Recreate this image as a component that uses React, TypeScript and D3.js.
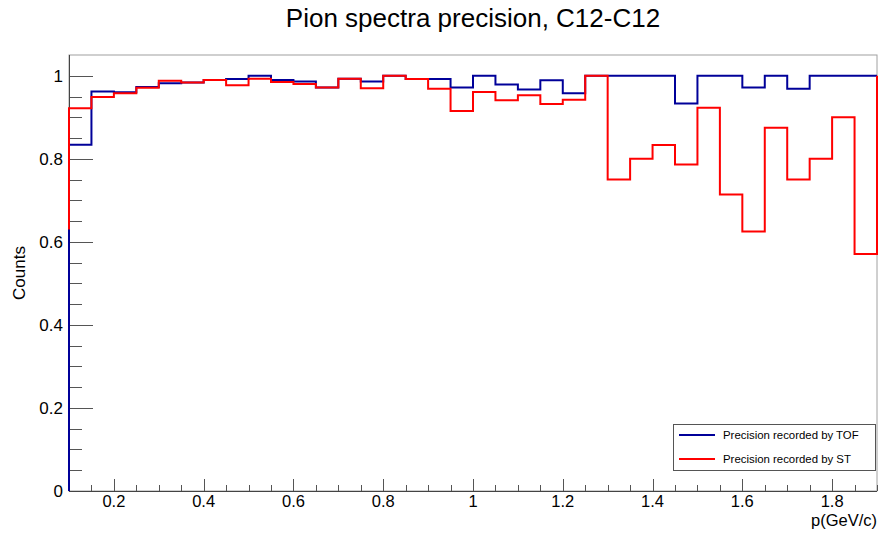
import React, { useEffect, useRef } from 'react';
import * as d3 from 'd3';

// bin edges: 36 bins of 0.05 from 0.1 to 1.9
const binLow = [
  0.1, 0.15, 0.2, 0.25, 0.3, 0.35, 0.4, 0.45, 0.5, 0.55, 0.6, 0.65,
  0.7, 0.75, 0.8, 0.85, 0.9, 0.95, 1.0, 1.05, 1.1, 1.15, 1.2, 1.25,
  1.3, 1.35, 1.4, 1.45, 1.5, 1.55, 1.6, 1.65, 1.7, 1.75, 1.8, 1.85,
];
const binWidth = 0.05;

const tofValues = [
  0.834, 0.962, 0.96, 0.973, 0.982, 0.984, 0.99, 0.992, 1.0, 0.99, 0.986, 0.972,
  0.993, 0.986, 1.0, 0.992, 0.992, 0.972, 1.0, 0.979, 0.967, 0.989, 0.958, 1.0,
  1.0, 1.0, 1.0, 0.933, 1.0, 1.0, 0.972, 1.0, 0.969, 1.0, 1.0, 1.0,
];
const stValues = [
  0.922, 0.949, 0.958, 0.971, 0.988, 0.984, 0.99, 0.977, 0.993, 0.985, 0.98, 0.972,
  0.993, 0.97, 1.0, 0.992, 0.969, 0.915, 0.961, 0.941, 0.953, 0.932, 0.942, 1.0,
  0.75, 0.8, 0.833, 0.786, 0.923, 0.714, 0.625, 0.875, 0.75, 0.8, 0.9, 0.571,
];
// where the outline starts at the left edge and ends at the right edge
const tofEdges = [0, 1.0];
const stEdges = [0.63, 1.0];

const xMajor = [0.2, 0.4, 0.6, 0.8, 1.0, 1.2, 1.4, 1.6, 1.8];
const xMajorLabels = ['0.2', '0.4', '0.6', '0.8', '1', '1.2', '1.4', '1.6', '1.8'];
const yMajor = [0, 0.2, 0.4, 0.6, 0.8, 1.0];
const yMajorLabels = ['0', '0.2', '0.4', '0.6', '0.8', '1'];

const seriesNames = ['Precision recorded by TOF', 'Precision recorded by ST'];
const seriesColors = ['#000099', '#ff0000'];

const W = 879;
const H = 535;
const FONT = '"Liberation Sans", Arial, Helvetica, sans-serif';

export default function App() {
  const ref = useRef<SVGSVGElement | null>(null);

  useEffect(() => {
    const svg = d3.select(ref.current);
    svg.selectAll('*').remove();

    const left = 69, right = 877, top = 55, bottom = 491;
    const x = d3.scaleLinear().domain([0.1, 1.9]).range([left, right]);
    const y = d3.scaleLinear().domain([0, 1.05]).range([bottom, top]);

    svg.append('rect').attr('width', W).attr('height', H).attr('fill', '#fff');

    // frame
    svg.append('rect')
      .attr('x', left).attr('y', top)
      .attr('width', right - left).attr('height', bottom - top)
      .attr('fill', 'none').attr('stroke', '#a0a0a0').attr('stroke-width', 1);

    // y ticks
    const yMinor = d3.range(0, 21).map(i => i * 0.05);
    svg.append('g').selectAll('line').data(yMinor).enter().append('line')
      .attr('x1', left).attr('x2', left + 13)
      .attr('y1', d => Math.round(y(d)) + 0.5).attr('y2', d => Math.round(y(d)) + 0.5)
      .attr('stroke', '#555');
    svg.append('g').selectAll('line').data(yMajor).enter().append('line')
      .attr('x1', left).attr('x2', left + 24)
      .attr('y1', d => Math.round(y(d)) + 0.5).attr('y2', d => Math.round(y(d)) + 0.5)
      .attr('stroke', '#555');
    svg.append('g').selectAll('text').data(yMajor).enter().append('text')
      .attr('x', 63).attr('y', d => y(d) + 6)
      .attr('text-anchor', 'end')
      .attr('font-family', FONT).attr('font-size', 17)
      .text((d, i) => yMajorLabels[i]);

    // x ticks
    const xMinor = d3.range(0, 37).map(i => 0.1 + i * 0.05);
    svg.append('g').selectAll('line').data(xMinor).enter().append('line')
      .attr('x1', d => Math.round(x(d)) + 0.5).attr('x2', d => Math.round(x(d)) + 0.5)
      .attr('y1', bottom).attr('y2', bottom - 6)
      .attr('stroke', '#555');
    svg.append('g').selectAll('line').data(xMajor).enter().append('line')
      .attr('x1', d => Math.round(x(d)) + 0.5).attr('x2', d => Math.round(x(d)) + 0.5)
      .attr('y1', bottom).attr('y2', bottom - 12)
      .attr('stroke', '#555');
    svg.append('g').selectAll('text').data(xMajor).enter().append('text')
      .attr('x', d => x(d)).attr('y', 507)
      .attr('text-anchor', 'middle')
      .attr('font-family', FONT).attr('font-size', 16.5)
      .text((d, i) => xMajorLabels[i]);

    // axis lines
    svg.append('line').attr('x1', left).attr('x2', right)
      .attr('y1', bottom + 0.5).attr('y2', bottom + 0.5).attr('stroke', '#444');
    svg.append('line').attr('x1', left + 0.5).attr('x2', left + 0.5)
      .attr('y1', top).attr('y2', bottom).attr('stroke', '#444');

    // histograms
    const line = d3.line<[number, number]>()
      .x(d => x(d[0])).y(d => y(d[1]))
      .curve(d3.curveLinear);

    const outline = (vals: number[], edges: number[]) => {
      const pts: [number, number][] = [[binLow[0], edges[0]]];
      vals.forEach((v, i) => {
        pts.push([binLow[i], v]);
        pts.push([binLow[i] + binWidth, v]);
      });
      pts.push([binLow[binLow.length - 1] + binWidth, edges[1]]);
      return pts;
    };

    [[tofValues, tofEdges], [stValues, stEdges]].forEach(([vals, edges], k) => {
      svg.append('path')
        .attr('d', line(outline(vals as number[], edges as number[])))
        .attr('fill', 'none')
        .attr('stroke', seriesColors[k])
        .attr('stroke-width', 2);
    });

    // title
    svg.append('text')
      .attr('x', (left + right) / 2).attr('y', 27)
      .attr('text-anchor', 'middle')
      .attr('font-family', FONT).attr('font-size', 26)
      .text('Pion spectra precision, C12-C12');

    // axis titles
    svg.append('text')
      .attr('x', right).attr('y', 526)
      .attr('text-anchor', 'end')
      .attr('font-family', FONT).attr('font-size', 16.5)
      .text('p(GeV/c)');
    svg.append('text')
      .attr('transform', `translate(25, ${(top + bottom) / 2}) rotate(-90)`)
      .attr('text-anchor', 'middle')
      .attr('font-family', FONT).attr('font-size', 17)
      .text('Counts');

    // legend
    const lg = svg.append('g');
    lg.append('rect')
      .attr('x', 673.5).attr('y', 424.5).attr('width', 202).attr('height', 46)
      .attr('fill', '#fff').attr('stroke', '#555').attr('stroke-width', 1);
    seriesNames.forEach((name, i) => {
      const ly = 435 + i * 24;
      lg.append('line')
        .attr('x1', 679).attr('x2', 715).attr('y1', ly).attr('y2', ly)
        .attr('stroke', seriesColors[i]).attr('stroke-width', 2);
      lg.append('text')
        .attr('x', 723).attr('y', ly + 4)
        .attr('font-family', FONT).attr('font-size', 11.4)
        .text(name);
    });
  }, []);

  return (
    <svg
      ref={ref}
      width={W}
      height={H}
      style={{ position: 'absolute', left: 0, top: 0, display: 'block' }}
    />
  );
}
